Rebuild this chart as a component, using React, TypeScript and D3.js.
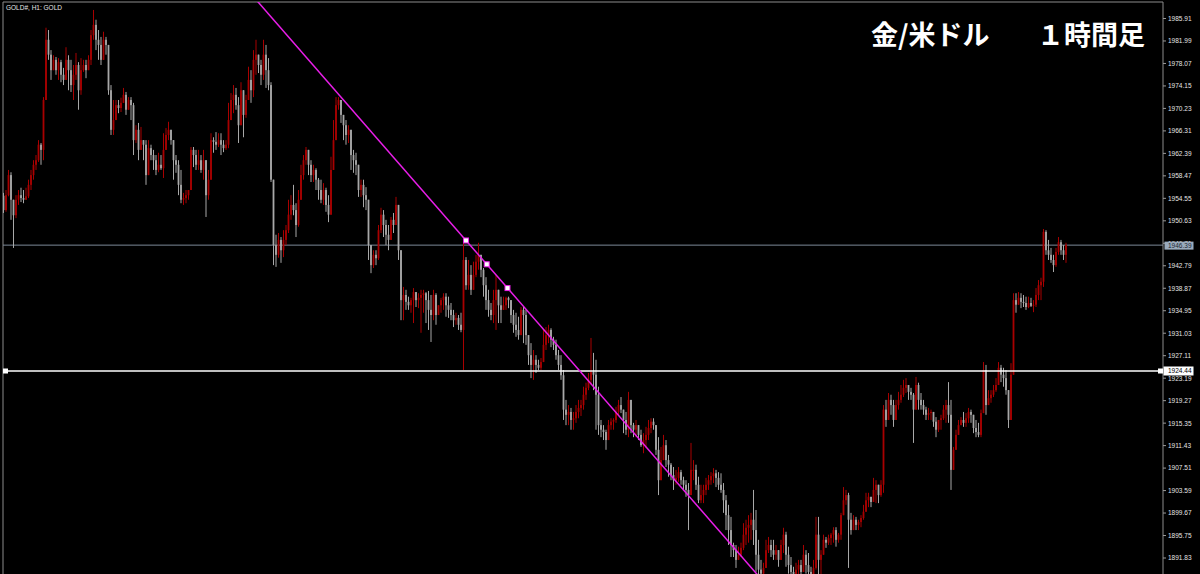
import React from "react";
import * as d3 from "d3";

const symbolLabel = "GOLD#, H1:  GOLD";
const titleLeft = "金/米ドル";
const titleRight = "１時間足";

const firstOpen = 1955.0;

const closes = [
  1952.5, 1955.1, 1958.6, 1954.3, 1951.6, 1954.3, 1955.1, 1954.6, 1954.3, 1954.9, 1956.9, 1958.6,
  1960.4, 1961.2, 1963.9, 1963.0, 1971.7, 1982.2, 1979.6, 1976.9, 1978.7, 1976.9, 1978.3, 1976.1,
  1975.2, 1978.7, 1976.9, 1974.3, 1976.1, 1977.8, 1973.4, 1976.9, 1977.8, 1976.9, 1978.7, 1983.0,
  1984.8, 1982.2, 1981.3, 1978.7, 1982.2, 1981.3, 1973.4, 1966.5, 1968.2, 1970.8, 1970.3, 1971.2,
  1972.6, 1970.0, 1971.7, 1970.8, 1964.7, 1966.5, 1963.0, 1964.7, 1963.9, 1958.6, 1963.3, 1962.1,
  1961.2, 1959.5, 1960.4, 1959.8, 1963.0, 1965.6, 1966.5, 1964.7, 1961.2, 1960.4, 1956.9, 1954.3,
  1954.6, 1955.1, 1956.0, 1963.0, 1962.1, 1960.4, 1961.2, 1959.5, 1961.2, 1955.1, 1957.8, 1964.7,
  1964.4, 1963.9, 1964.7, 1963.9, 1963.3, 1963.9, 1968.2, 1971.7, 1972.6, 1970.8, 1967.3, 1973.4,
  1969.1, 1971.7, 1975.2, 1973.4, 1978.7, 1979.6, 1977.8, 1976.1, 1979.6, 1976.9, 1974.3, 1957.8,
  1946.4, 1944.7, 1947.3, 1945.5, 1947.3, 1949.0, 1951.7, 1953.4, 1952.5, 1949.9, 1954.3, 1958.6,
  1961.2, 1963.0, 1960.4, 1958.6, 1959.5, 1957.8, 1956.0, 1954.3, 1956.0, 1953.4, 1951.7, 1959.5,
  1964.7, 1970.8, 1971.7, 1969.1, 1967.3, 1965.6, 1966.5, 1962.1, 1961.2, 1960.4, 1956.0, 1956.9,
  1955.1, 1954.3, 1946.4, 1942.9, 1944.7, 1944.1, 1949.0, 1951.7, 1949.9, 1948.2, 1947.3, 1950.8,
  1949.9, 1953.4, 1945.5, 1936.8, 1937.7, 1936.5, 1935.9, 1936.8, 1938.2, 1936.8, 1937.2, 1937.7,
  1938.0, 1936.8, 1935.1, 1934.2, 1937.7, 1934.2, 1935.9, 1936.8, 1937.4, 1935.9, 1935.1, 1934.2,
  1933.3, 1933.7, 1932.5, 1931.6, 1943.8, 1939.4, 1941.2, 1938.6, 1941.2, 1943.5, 1944.7, 1942.1,
  1939.4, 1936.8, 1935.1, 1934.2, 1936.8, 1938.6, 1935.9, 1935.1, 1935.9, 1937.2, 1936.8, 1934.2,
  1932.5, 1931.6, 1930.7, 1935.1, 1934.2, 1930.7, 1927.2, 1925.5, 1926.4, 1925.5, 1925.0, 1926.0,
  1929.0, 1930.7, 1931.6, 1929.9, 1929.0, 1927.2, 1925.5, 1923.7, 1917.7, 1916.8, 1917.3, 1915.9,
  1916.2, 1917.3, 1918.0, 1918.5, 1920.3, 1921.5, 1922.9, 1924.3, 1923.8, 1920.3, 1915.0, 1914.2,
  1913.8, 1912.4, 1915.0, 1915.6, 1915.9, 1917.3, 1918.5, 1917.7, 1915.9, 1914.2, 1919.4, 1915.0,
  1914.2, 1915.0, 1913.3, 1911.5, 1912.4, 1913.3, 1914.5, 1915.6, 1915.0, 1910.7, 1905.4, 1908.9,
  1911.5, 1908.9, 1908.1, 1906.3, 1905.4, 1905.8, 1906.8, 1905.4, 1904.6, 1903.7, 1902.8, 1907.2,
  1907.2, 1904.6, 1901.9, 1902.8, 1903.7, 1904.6, 1905.4, 1906.1, 1906.6, 1905.8, 1904.6, 1903.7,
  1901.9, 1899.3, 1896.7, 1894.1, 1893.2, 1891.5, 1892.4, 1893.6, 1895.9, 1897.1, 1897.6, 1898.5,
  1896.7, 1892.4, 1889.8, 1889.1, 1890.1, 1893.2, 1894.1, 1893.2, 1892.4, 1893.2, 1891.5, 1894.1,
  1895.9, 1892.4, 1890.6, 1889.4, 1888.9, 1889.8, 1890.6, 1889.4, 1892.4, 1890.6, 1889.4, 1888.9,
  1890.1, 1895.9, 1891.5, 1892.4, 1895.0, 1894.5, 1895.3, 1895.9, 1896.7, 1895.0, 1895.9, 1899.3,
  1901.9, 1902.8, 1898.5, 1896.7, 1898.5, 1897.6, 1898.1, 1898.8, 1899.9, 1901.9, 1902.5, 1901.6,
  1903.7, 1904.6, 1902.8, 1904.6, 1917.7, 1915.9, 1919.4, 1918.5, 1915.9, 1918.5, 1919.4, 1920.3,
  1921.5, 1922.0, 1920.8, 1920.3, 1917.7, 1922.0, 1919.4, 1918.5, 1917.7, 1916.8, 1917.1, 1917.3,
  1915.6, 1914.2, 1915.9, 1916.2, 1917.7, 1918.5, 1916.8, 1907.2, 1910.7, 1913.3, 1915.0, 1915.9,
  1915.4, 1916.2, 1917.3, 1916.8, 1914.5, 1913.8, 1913.3, 1917.1, 1924.6, 1918.5, 1919.7, 1920.3,
  1921.1, 1922.0, 1925.0, 1923.8, 1923.2, 1921.1, 1915.9, 1923.8, 1936.8, 1936.0, 1937.2, 1936.5,
  1936.3, 1935.6, 1936.3, 1935.8, 1936.0, 1937.7, 1939.4, 1940.0, 1948.7, 1945.5, 1944.7, 1943.8,
  1942.9, 1945.2, 1946.9, 1945.5, 1944.7, 1946.4,
];

const highs = [
  1955.5, 1956.0, 1959.5, 1959.1, 1953.4, 1955.1, 1956.0, 1956.4, 1956.0, 1956.4, 1957.8, 1959.5,
  1961.2, 1962.1, 1964.7, 1964.2, 1972.2, 1984.3, 1983.9, 1980.4, 1979.5, 1979.2, 1979.0, 1978.7,
  1977.3, 1980.9, 1979.5, 1978.7, 1977.8, 1979.9, 1978.3, 1979.0, 1978.7, 1978.7, 1979.5, 1983.9,
  1987.4, 1985.7, 1983.9, 1982.7, 1983.6, 1982.7, 1978.7, 1974.3, 1971.7, 1971.7, 1971.7, 1972.1,
  1973.8, 1973.1, 1972.2, 1972.2, 1971.2, 1967.3, 1967.7, 1967.0, 1964.7, 1964.7, 1964.7, 1963.9,
  1963.0, 1962.1, 1962.5, 1962.1, 1965.9, 1966.8, 1967.9, 1966.5, 1964.2, 1962.1, 1961.2, 1959.5,
  1955.5, 1956.0, 1956.0, 1963.5, 1963.5, 1963.0, 1963.0, 1962.1, 1963.0, 1961.2, 1959.5, 1965.9,
  1965.2, 1966.1, 1965.9, 1965.9, 1964.7, 1964.7, 1971.2, 1972.9, 1974.3, 1973.8, 1972.2, 1974.8,
  1971.7, 1972.6, 1977.5, 1976.9, 1980.4, 1982.2, 1979.6, 1978.7, 1982.2, 1981.3, 1979.0, 1974.8,
  1957.8, 1948.2, 1948.5, 1947.8, 1949.0, 1949.9, 1954.3, 1955.1, 1956.9, 1953.7, 1956.0, 1960.4,
  1962.1, 1963.5, 1962.5, 1961.2, 1960.4, 1959.8, 1958.1, 1957.8, 1957.2, 1956.4, 1955.1, 1961.8,
  1968.2, 1972.2, 1972.2, 1971.7, 1968.6, 1968.2, 1967.3, 1966.5, 1963.0, 1962.5, 1959.5, 1957.8,
  1957.8, 1956.5, 1953.4, 1946.4, 1945.5, 1945.5, 1949.9, 1952.9, 1952.5, 1950.8, 1949.9, 1951.3,
  1952.0, 1954.8, 1952.5, 1944.7, 1939.1, 1938.6, 1937.4, 1937.2, 1938.9, 1938.2, 1938.0, 1938.6,
  1938.6, 1938.2, 1938.4, 1937.7, 1938.6, 1938.0, 1935.6, 1937.2, 1938.0, 1938.0, 1937.4, 1936.3,
  1935.1, 1934.6, 1934.2, 1934.6, 1946.8, 1944.3, 1943.8, 1942.9, 1943.5, 1944.7, 1946.8, 1944.3,
  1942.4, 1940.8, 1938.6, 1936.3, 1938.6, 1941.2, 1938.6, 1937.4, 1937.4, 1937.4, 1937.4, 1935.6,
  1935.1, 1934.6, 1933.9, 1935.6, 1935.6, 1935.1, 1930.7, 1929.3, 1928.1, 1927.2, 1926.4, 1926.7,
  1931.6, 1932.1, 1932.5, 1931.9, 1930.4, 1929.9, 1928.1, 1927.2, 1924.6, 1919.4, 1918.5, 1918.0,
  1917.3, 1918.5, 1919.4, 1919.4, 1921.7, 1922.4, 1924.1, 1930.2, 1927.6, 1926.4, 1921.7, 1915.9,
  1915.0, 1914.2, 1915.9, 1916.2, 1916.2, 1918.2, 1919.4, 1919.9, 1917.7, 1917.3, 1920.8, 1919.4,
  1915.4, 1915.9, 1914.7, 1914.2, 1913.6, 1914.7, 1915.9, 1916.2, 1916.2, 1915.0, 1912.9, 1911.2,
  1913.3, 1912.4, 1909.8, 1908.4, 1907.7, 1907.2, 1907.7, 1907.2, 1906.0, 1905.4, 1904.9, 1911.9,
  1908.9, 1908.1, 1906.0, 1904.6, 1904.6, 1905.8, 1906.3, 1906.8, 1907.5, 1907.2, 1906.8, 1906.6,
  1904.9, 1902.8, 1901.1, 1899.0, 1894.5, 1894.1, 1893.8, 1894.5, 1897.9, 1898.5, 1899.3, 1899.7,
  1903.7, 1900.2, 1895.0, 1891.5, 1891.0, 1895.0, 1895.5, 1895.0, 1895.0, 1894.1, 1893.2, 1895.0,
  1897.1, 1896.4, 1893.8, 1892.0, 1890.3, 1891.0, 1891.5, 1891.5, 1894.1, 1893.2, 1892.7, 1890.3,
  1891.5, 1899.0, 1899.0, 1893.2, 1895.9, 1895.5, 1895.9, 1896.2, 1897.2, 1897.2, 1896.2, 1899.7,
  1904.2, 1903.7, 1903.2, 1899.7, 1899.3, 1899.0, 1898.5, 1899.3, 1901.1, 1903.2, 1903.2, 1902.5,
  1905.8, 1905.4, 1904.6, 1905.4, 1918.5, 1919.4, 1920.6, 1920.3, 1919.4, 1919.4, 1920.8, 1922.0,
  1922.9, 1923.2, 1922.0, 1921.5, 1920.6, 1923.4, 1922.4, 1920.6, 1919.4, 1918.2, 1918.0, 1917.7,
  1917.1, 1916.4, 1915.9, 1916.8, 1918.5, 1919.4, 1922.5, 1919.4, 1911.2, 1914.2, 1915.9, 1916.4,
  1917.3, 1917.1, 1918.0, 1917.7, 1916.8, 1915.9, 1915.4, 1917.7, 1926.0, 1925.5, 1921.1, 1921.1,
  1922.0, 1923.2, 1926.0, 1925.5, 1925.0, 1924.6, 1921.1, 1925.8, 1938.0, 1938.0, 1938.2, 1938.0,
  1937.7, 1937.4, 1937.4, 1937.2, 1936.8, 1938.9, 1940.3, 1940.7, 1949.2, 1949.0, 1947.3, 1945.9,
  1944.7, 1945.9, 1947.8, 1947.3, 1946.4, 1946.8,
];

const lows = [
  1952.0, 1952.2, 1954.9, 1950.8, 1945.9, 1951.1, 1953.4, 1953.9, 1953.7, 1954.3, 1954.6, 1956.0,
  1957.8, 1959.5, 1960.9, 1960.4, 1961.2, 1971.7, 1978.7, 1975.2, 1976.9, 1976.1, 1975.2, 1974.8,
  1974.3, 1975.2, 1973.4, 1973.1, 1971.7, 1975.2, 1970.0, 1972.6, 1976.6, 1975.5, 1976.9, 1977.8,
  1982.2, 1980.4, 1978.7, 1977.8, 1980.4, 1979.6, 1972.6, 1965.6, 1965.6, 1968.6, 1969.4, 1969.6,
  1971.2, 1969.1, 1970.0, 1968.2, 1962.1, 1964.2, 1961.2, 1963.0, 1961.2, 1956.9, 1962.1, 1961.2,
  1959.5, 1958.6, 1959.1, 1959.5, 1958.1, 1963.0, 1964.7, 1963.9, 1957.8, 1959.0, 1955.1, 1953.7,
  1953.4, 1953.7, 1954.3, 1956.0, 1960.0, 1959.5, 1959.5, 1959.0, 1957.8, 1951.3, 1954.3, 1957.8,
  1962.5, 1963.0, 1963.5, 1962.1, 1962.6, 1963.0, 1963.3, 1968.2, 1969.4, 1970.0, 1964.2, 1968.2,
  1965.2, 1968.6, 1971.7, 1971.2, 1972.2, 1976.1, 1976.4, 1974.3, 1975.2, 1973.8, 1973.4, 1957.4,
  1942.9, 1942.6, 1944.2, 1943.3, 1944.3, 1946.4, 1948.5, 1950.8, 1951.6, 1947.8, 1949.6, 1954.3,
  1957.8, 1960.4, 1958.6, 1957.4, 1957.4, 1956.0, 1954.3, 1953.7, 1953.4, 1952.2, 1950.4, 1951.7,
  1961.2, 1964.7, 1970.0, 1967.7, 1964.7, 1963.9, 1964.2, 1959.5, 1959.0, 1958.6, 1954.8, 1954.8,
  1953.0, 1952.5, 1943.8, 1941.5, 1942.4, 1942.9, 1943.8, 1948.5, 1947.8, 1946.4, 1945.5, 1947.3,
  1948.5, 1949.9, 1943.8, 1933.3, 1933.3, 1935.1, 1935.1, 1934.6, 1932.8, 1935.6, 1935.4, 1931.1,
  1934.6, 1932.8, 1931.6, 1929.5, 1933.3, 1932.5, 1934.2, 1934.6, 1935.1, 1933.9, 1933.7, 1933.3,
  1932.1, 1932.5, 1931.6, 1931.2, 1924.6, 1938.6, 1938.6, 1937.7, 1938.6, 1940.8, 1942.1, 1940.8,
  1937.4, 1935.1, 1933.9, 1933.3, 1932.8, 1931.6, 1932.8, 1932.8, 1935.1, 1935.1, 1935.4, 1932.8,
  1931.1, 1930.4, 1929.9, 1930.7, 1929.3, 1929.0, 1925.5, 1923.2, 1922.9, 1924.1, 1924.6, 1924.6,
  1926.0, 1928.1, 1929.3, 1928.6, 1928.1, 1926.4, 1924.6, 1922.9, 1915.9, 1915.0, 1915.0, 1914.2,
  1914.2, 1915.4, 1916.2, 1916.6, 1917.7, 1919.4, 1921.1, 1922.0, 1921.1, 1914.2, 1913.3, 1912.9,
  1912.4, 1910.7, 1912.4, 1914.2, 1914.2, 1915.4, 1916.8, 1917.1, 1913.6, 1913.3, 1912.9, 1913.6,
  1912.9, 1912.9, 1912.4, 1911.2, 1910.1, 1911.0, 1912.4, 1913.6, 1914.2, 1909.8, 1902.8, 1905.4,
  1908.9, 1907.7, 1906.0, 1905.4, 1903.7, 1904.6, 1905.1, 1904.6, 1903.7, 1902.5, 1896.7, 1902.8,
  1905.4, 1903.7, 1901.4, 1901.4, 1901.4, 1902.8, 1903.7, 1904.6, 1904.9, 1904.2, 1903.7, 1903.2,
  1899.7, 1896.7, 1894.1, 1892.0, 1892.0, 1890.1, 1891.5, 1892.0, 1893.2, 1894.1, 1894.5, 1895.0,
  1894.1, 1889.4, 1888.4, 1888.0, 1888.0, 1890.1, 1892.7, 1892.0, 1891.5, 1891.5, 1890.3, 1892.4,
  1892.7, 1890.3, 1889.1, 1888.4, 1888.0, 1888.4, 1888.7, 1888.4, 1890.3, 1889.1, 1888.4, 1888.0,
  1888.0, 1889.8, 1888.0, 1888.4, 1892.7, 1893.6, 1894.1, 1894.1, 1894.5, 1893.8, 1894.5, 1895.0,
  1899.7, 1901.1, 1890.1, 1895.9, 1896.7, 1896.7, 1896.7, 1897.2, 1898.5, 1899.9, 1900.7, 1900.7,
  1902.5, 1901.4, 1901.4, 1902.5, 1903.2, 1914.7, 1915.9, 1916.8, 1914.7, 1915.9, 1917.7, 1918.9,
  1919.9, 1920.6, 1919.4, 1919.4, 1911.9, 1917.7, 1917.7, 1917.7, 1916.8, 1915.9, 1915.9, 1915.9,
  1914.7, 1912.9, 1913.8, 1914.2, 1915.9, 1915.4, 1915.4, 1903.7, 1907.2, 1910.7, 1913.3, 1915.0,
  1914.7, 1914.7, 1915.4, 1915.4, 1913.6, 1912.9, 1912.9, 1912.9, 1918.2, 1916.8, 1918.5, 1918.9,
  1919.9, 1920.8, 1922.0, 1922.5, 1921.7, 1920.3, 1914.5, 1915.9, 1923.8, 1934.6, 1936.0, 1935.4,
  1935.6, 1935.1, 1935.4, 1935.6, 1934.7, 1935.6, 1936.8, 1936.8, 1939.1, 1944.7, 1943.8, 1943.3,
  1941.7, 1942.6, 1944.7, 1944.7, 1943.8, 1943.3,
];

const priceTicks = [
  1985.91, 1981.99, 1978.07, 1974.15, 1970.23, 1966.31, 1962.39, 1958.47, 1954.55, 1950.63,
  1946.71, 1942.79, 1938.87, 1934.95, 1931.03, 1927.11, 1923.19, 1919.27, 1915.35, 1911.43,
  1907.51, 1903.59, 1899.67, 1895.75, 1891.83,
];

const bidPrice = 1946.39;
const levelPrice = 1924.44;
const trendAnchors = [
  { bar: 185, price: 1947.2 },
  { bar: 201.6, price: 1938.9 },
];

const W = 1200;
const H = 574;
const plotLeft = 3;
const plotRight = 1163;
const plotTop = 2;

const UP = "#a80000";
const DOWN = "#a8a8a8";

export default function App() {
  const n = Math.min(closes.length, highs.length, lows.length);
  const x = d3.scaleLinear().domain([0, n - 1]).range([3.5, 3.5 + 2.5 * (n - 1)]);
  const y = d3.scaleLinear().domain([1891.83, 1985.91]).range([558, 18.5]);

  const bars = d3.range(n).map((i) => {
    const o = i === 0 ? firstOpen : closes[i - 1];
    const c = closes[i];
    const h = Math.max(highs[i], o, c);
    const l = Math.min(lows[i], o, c);
    return { i, o, c, h, l, up: c >= o };
  });

  const a = trendAnchors[0];
  const b = trendAnchors[1];
  const slope = (b.price - a.price) / (b.bar - a.bar);
  const barL = x.invert(plotLeft);
  const barR = x.invert(plotRight);
  const tl = { x: x(barL), y: y(a.price + slope * (barL - a.bar)) };
  const tr = { x: x(barR), y: y(a.price + slope * (barR - a.bar)) };
  const anchorPts = [
    { bar: a.bar, price: a.price },
    { bar: (a.bar + b.bar) / 2, price: (a.price + b.price) / 2 },
    { bar: b.bar, price: b.price },
  ];

  const yBid = y(bidPrice);
  const yLvl = y(levelPrice);
  const axisFont = "'Liberation Sans', Arial, sans-serif";

  return (
    <svg
      width={W}
      height={H}
      style={{ position: "fixed", left: 0, top: 0, display: "block", background: "#000" }}
    >
      <defs>
        <clipPath id="plotClip">
          <rect x={plotLeft} y={plotTop} width={plotRight - plotLeft} height={H - plotTop} />
        </clipPath>
      </defs>
      <rect x={0} y={0} width={W} height={H} fill="#000" />

      <line x1={plotLeft} y1={plotTop} x2={plotRight} y2={plotTop} stroke="#8c8c8c" strokeWidth={1} />
      <line x1={plotLeft} y1={plotTop} x2={plotLeft} y2={H} stroke="#8c8c8c" strokeWidth={1} />
      <line x1={plotRight} y1={plotTop} x2={plotRight} y2={H} stroke="#8c8c8c" strokeWidth={1} />

      <g clipPath="url(#plotClip)">
        <line x1={plotLeft} x2={plotRight} y1={yBid} y2={yBid} stroke="#7d8a98" strokeWidth={1} />

        {bars.map((d) => {
          const col = d.up ? UP : DOWN;
          const cx = x(d.i);
          const yTop = y(Math.max(d.o, d.c));
          const yBot = y(Math.min(d.o, d.c));
          return (
            <g key={d.i}>
              <line x1={cx} x2={cx} y1={y(d.h)} y2={y(d.l)} stroke={col} strokeWidth={1} />
              <rect x={cx - 0.9} y={yTop} width={1.8} height={Math.max(1, yBot - yTop)} fill={col} />
            </g>
          );
        })}

        <line x1={plotLeft} x2={plotRight} y1={yLvl} y2={yLvl} stroke="#ffffff" strokeWidth={1.5} />

        <line x1={tl.x} y1={tl.y} x2={tr.x} y2={tr.y} stroke="#e81ee8" strokeWidth={1.5} />
        {anchorPts.map((p, k) => (
          <rect
            key={k}
            x={x(p.bar) - 2.5}
            y={y(p.price) - 2.5}
            width={5}
            height={5}
            fill="#ffffff"
            stroke="#e81ee8"
            strokeWidth={1}
          />
        ))}
      </g>

      <rect x={plotLeft} y={yLvl - 2.5} width={5} height={5} fill="#ffffff" />
      <rect x={plotRight - 5} y={yLvl - 2.5} width={5} height={5} fill="#ffffff" />

      <text x={6} y={9.5} fill="#e6e6e6" fontSize={6.5} fontFamily={axisFont}>
        {symbolLabel}
      </text>

      {priceTicks.map((t) => (
        <g key={t} transform={`translate(${plotRight},${y(t)})`}>
          <line x1={0} x2={3} y1={0} y2={0} stroke="#9a9a9a" strokeWidth={1} />
          <text x={5} y={2.4} fill="#e6e6e6" fontSize={6.5} fontFamily={axisFont}>
            {t.toFixed(2)}
          </text>
        </g>
      ))}

      <rect x={plotRight + 1.5} y={yBid - 3.5} width={29} height={8} fill="#9aabbd" />
      <text x={plotRight + 5} y={yBid + 2.8} fill="#1c2631" fontSize={6.5} fontFamily={axisFont}>
        {bidPrice.toFixed(2)}
      </text>

      <rect x={plotRight + 0.5} y={yLvl - 4.5} width={30} height={9} fill="#ffffff" />
      <text x={plotRight + 5} y={yLvl + 2.4} fill="#000000" fontSize={6.5} fontFamily={axisFont}>
        {levelPrice.toFixed(2)}
      </text>

      <text
        x={871}
        y={45}
        fill="#ffffff"
        fontSize={27}
        fontWeight={700}
        fontFamily="'Noto Sans CJK JP', 'Noto Sans CJK SC', sans-serif"
      >
        {titleLeft}
      </text>
      <text
        x={1145}
        y={45}
        textAnchor="end"
        fill="#ffffff"
        fontSize={27}
        fontWeight={700}
        fontFamily="'Noto Sans CJK JP', 'Noto Sans CJK SC', sans-serif"
      >
        {titleRight}
      </text>
    </svg>
  );
}
